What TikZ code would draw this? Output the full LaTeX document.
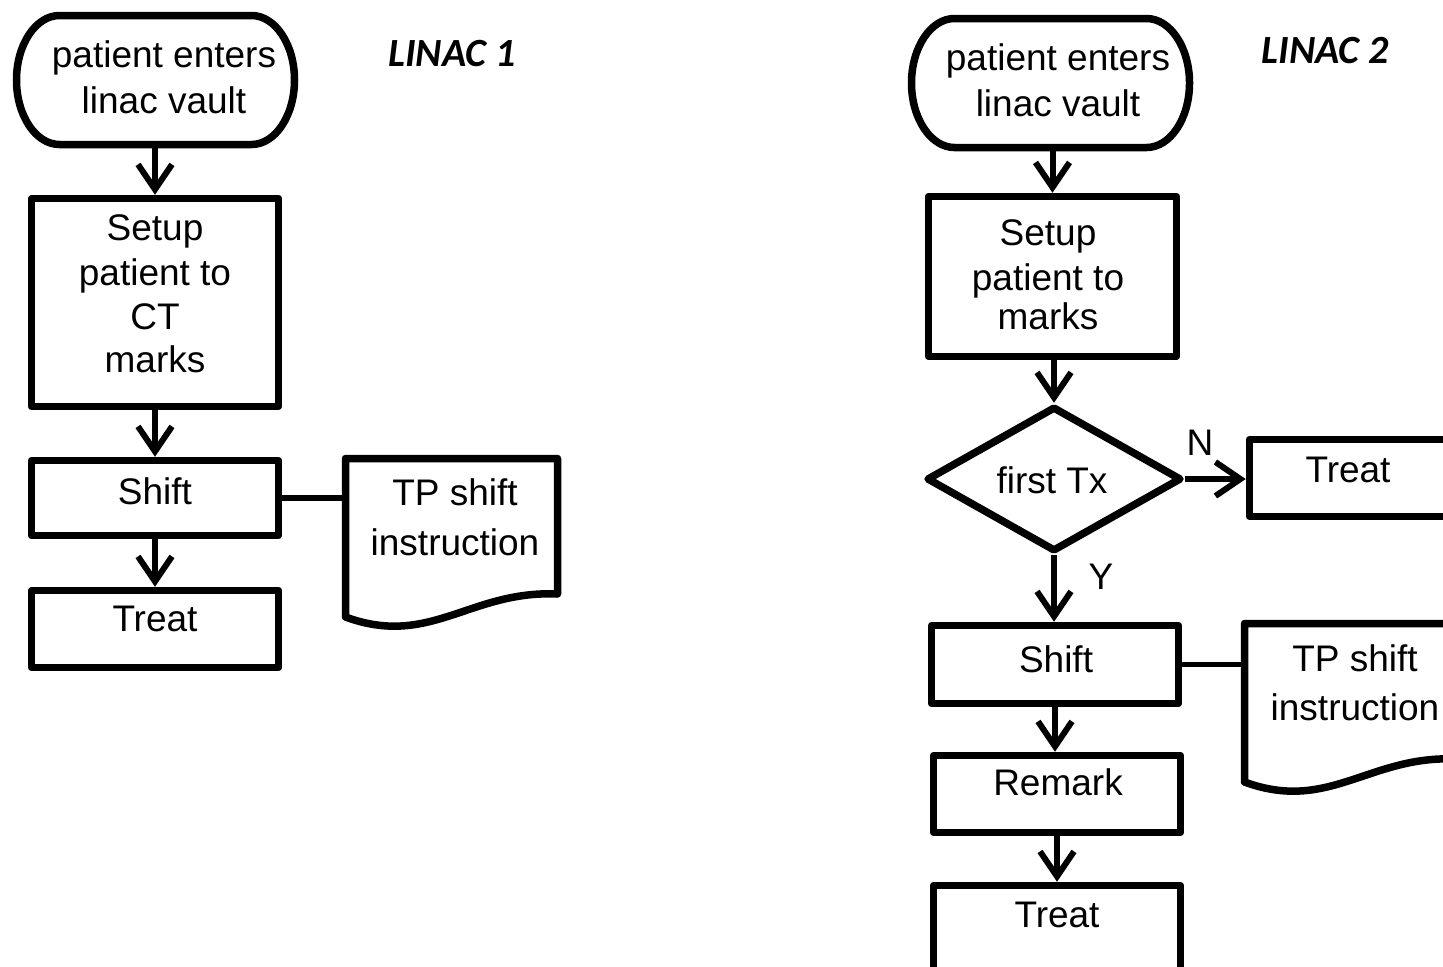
\documentclass[tikz,border=0pt]{standalone}
\usepackage{fontspec}
\setmainfont{Liberation Sans}
\newfontfamily\linacfont{Carlito}
\usetikzlibrary{arrows.meta,shapes.geometric,fit,calc}

\begin{document}
\begin{tikzpicture}[
  x=0.5pt, y=-0.5pt,
  outline/.style={draw, line width=3.75pt, line join=round},
  box/.style={outline, rectangle, inner sep=0pt},
  hold/.style={inner sep=0pt, draw=none},
  lbl/.style={anchor=base, inner sep=0pt, font=\fontsize{18.5pt}{22pt}\selectfont},
  title/.style={anchor=base, inner sep=0pt, font=\linacfont\bfseries\itshape\fontsize{20pt}{24pt}\selectfont},
  flow/.style={line width=3pt, line join=round, -{Straight Barb[length=12.5pt,width=17pt]}},
  link/.style={line width=2.75pt}
]
\useasboundingbox (0,0) rectangle (1443,966);
\clip (0,0) rectangle (1443,966);

% ---------------- LINAC 1 ----------------
\draw[outline] (59.5,15.5) -- (251.5,15.5)
  .. controls (275.2,15.5) and (294.5,44.4) .. (294.5,80)
  .. controls (294.5,115.6) and (275.2,144.5) .. (251.5,144.5)
  -- (59.5,144.5)
  .. controls (35.8,144.5) and (16.5,115.6) .. (16.5,80)
  .. controls (16.5,44.4) and (35.8,15.5) .. (59.5,15.5) -- cycle;
\node[hold, fit={(16.5,15.5)(294.5,144.5)}] (ent1) {};
\node[lbl] (ent1a) at (164,67) {patient enters};
\node[lbl] (ent1b) at (164,113) {linac vault};

\node[title] (lin1) at (452,66) {LINAC 1};

\node[box, fit={(31.5,198.5)(278.5,406.5)}] (set1) {};
\node[lbl] (set1a) at (155,240) {Setup};
\node[lbl] (set1b) at (155,285) {patient to};
\node[lbl] (set1c) at (155,329) {CT};
\node[lbl] (set1d) at (155,372) {marks};

\node[box, fit={(31.5,460.5)(278.5,535.5)}] (shf1) {};
\node[lbl] (shf1a) at (155,504) {Shift};

\node[box, fit={(31.5,590.5)(278.5,667.5)}] (trt1) {};
\node[lbl] (trt1a) at (155,631) {Treat};

% document symbol
\draw[outline] (345.5,458.5) -- (557.5,458.5) -- (557.5,594)
  .. controls (470,590) and (430,648) .. (345.5,617) -- cycle;
\node[hold, fit={(345.5,458.5)(557.5,617)}] (doc1) {};
\node[lbl] (doc1a) at (455,505) {TP shift};
\node[lbl] (doc1b) at (455,555) {instruction};

\draw[flow] (set1.north |- ent1.south) -- (set1.north);
\draw[flow] (set1.south) -- (shf1.north);
\draw[flow] (shf1.south) -- (trt1.north);
\draw[link] (shf1.east) -- (shf1.east -| doc1.west);

% ---------------- LINAC 2 ----------------
\draw[outline] (954.5,18.5) -- (1146.5,18.5)
  .. controls (1170.2,18.5) and (1189.5,47.4) .. (1189.5,83)
  .. controls (1189.5,118.6) and (1170.2,147.5) .. (1146.5,147.5)
  -- (954.5,147.5)
  .. controls (930.8,147.5) and (911.5,118.6) .. (911.5,83)
  .. controls (911.5,47.4) and (930.8,18.5) .. (954.5,18.5) -- cycle;
\node[hold, fit={(911.5,18.5)(1189.5,147.5)}] (ent2) {};
\node[lbl] (ent2a) at (1058,70) {patient enters};
\node[lbl] (ent2b) at (1058,116) {linac vault};

\node[title] (lin2) at (1325,63) {LINAC 2};

\node[box, fit={(928.5,196.5)(1176.5,356.5)}] (set2) {};
\node[lbl] (set2a) at (1048,245) {Setup};
\node[lbl] (set2b) at (1048,290) {patient to};
\node[lbl] (set2c) at (1048,329) {marks};

\node[outline, diamond, inner sep=0pt, minimum width=127.5pt, minimum height=72.5pt] (dec) at (1054,479) {};
\node[lbl] (deca) at (1052,493) {first Tx};

\node[box, fit={(1249.5,439.5)(1452,516.5)}] (trtn) {};
\node[lbl] (trtna) at (1348,482) {Treat};
\node[lbl] (lbn) at (1200,455) {N};
\node[lbl] (lby) at (1101,589) {Y};

\node[box, fit={(931.5,625.5)(1178.5,703.5)}] (shf2) {};
\node[lbl] (shf2a) at (1056,672) {Shift};

\begin{scope}[shift={(899,165)}]
\draw[outline] (345.5,458.5) -- (557.5,458.5) -- (557.5,594)
  .. controls (470,590) and (430,648) .. (345.5,617) -- cycle;
\end{scope}
\node[hold, fit={(1244.5,623.5)(1456.5,782)}] (doc2) {};
\node[lbl] (doc2a) at (1355,671) {TP shift};
\node[lbl] (doc2b) at (1355,720) {instruction};

\node[box, fit={(933.5,755.5)(1180.5,832.5)}] (rem) {};
\node[lbl] (rema) at (1058,795) {Remark};

\node[box, fit={(933.5,885.5)(1180.5,990)}] (trt2) {};
\node[lbl] (trt2a) at (1057,927) {Treat};

\draw[flow] (set2.north |- ent2.south) -- (set2.north);
\draw[flow] (dec.north |- set2.south) -- (dec.north);
\draw[flow] (dec.east) -- (dec.east -| trtn.west);
\draw[flow] (dec.south) -- (dec.south |- shf2.north);
\draw[flow] (shf2.south) -- (shf2.south |- rem.north);
\draw[flow] (rem.south) -- (rem.south |- trt2.north);
\draw[link] (shf2.east) -- (shf2.east -| doc2.west);
\end{tikzpicture}
\end{document}
